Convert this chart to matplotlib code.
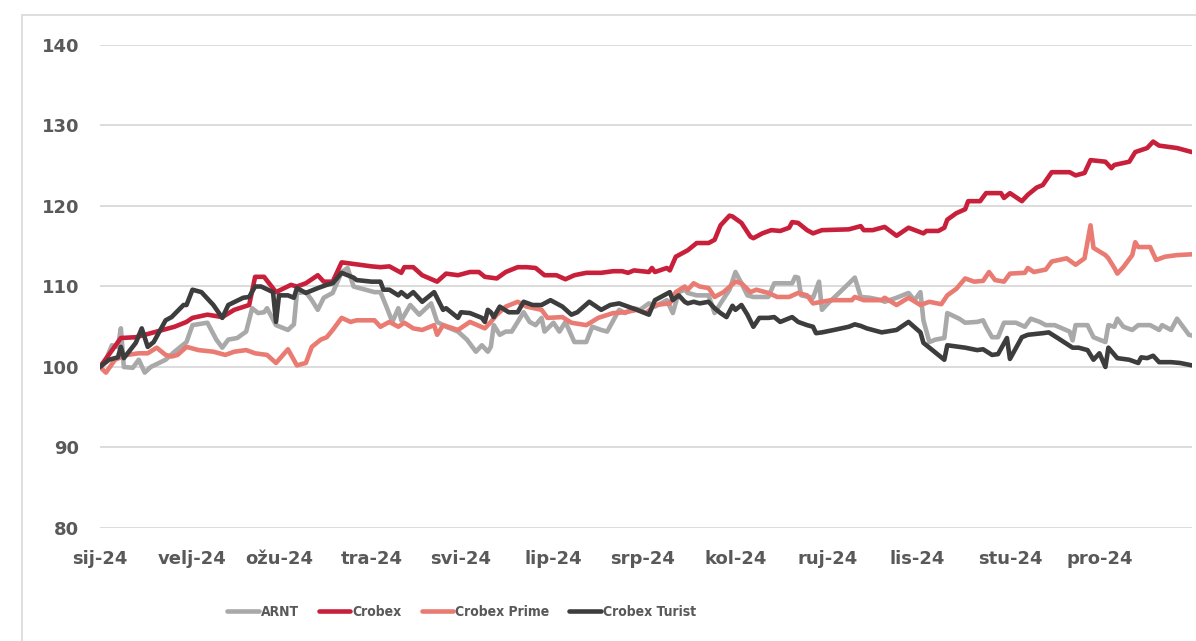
import numpy as np
import matplotlib
matplotlib.use("Agg")
import matplotlib.pyplot as plt
import matplotlib.dates as mdates
from matplotlib.patches import Rectangle
from matplotlib import font_manager

# day of year (0 = 1 Jan 2024) and index level
arnt_days = [0, 2, 4, 6, 7, 8, 11, 13, 15, 17, 22, 25, 29, 31, 36, 39, 41, 43, 46, 49, 51, 53, 55, 56, 59, 63, 65,
             66, 69, 71, 73, 75, 78, 81, 83, 85, 87, 92, 94, 96, 98, 100, 101, 104, 107, 111, 113, 116, 120, 123, 126,
             128, 130, 131, 132, 134, 136, 138, 142, 144, 146, 148, 149, 152, 154, 156, 159, 163, 165, 168, 170, 174,
             176, 179, 181, 184, 186, 190, 192, 194, 196, 197, 200, 204, 206, 208, 211, 213, 215, 217, 219, 224, 226,
             232, 233, 234, 235, 239, 241, 242, 244, 248, 253, 255, 258, 262, 263, 267, 271, 273, 275, 276, 278, 280,
             283, 284, 288, 290, 294, 296, 297, 299, 301, 303, 307, 310, 312, 315, 317, 320, 325, 326, 327, 331, 333,
             337, 338, 340, 341, 343, 346, 348, 352, 355, 356, 359, 361, 363, 365, 366]
arnt_vals = [100, 100.9, 102.7, 102.5, 104.8, 100, 99.9, 100.9, 99.3, 100, 100.9, 101.9, 103.1, 105.2, 105.5, 103.4,
             102.4, 103.4, 103.6, 104.4, 107.3, 106.7, 106.8, 107.3, 105.2, 104.6, 105.3,
             109.2, 109.3, 108.3, 107.1, 108.6, 109.2, 111.8, 112.3, 110, 109.8, 109.3, 109.3, 107.5, 105.6, 107.3,
             105.8, 107.7, 106.5, 107.9, 105.6, 105, 104.4, 103.4, 101.9,
             102.7, 101.9, 102.5, 105.2, 104, 104.4, 104.4, 106.8, 105.6, 105.2, 106.1, 104.4, 105.5, 104.4, 105.6,
             103.1, 103.1, 105, 104.6, 104.4, 107.1,
             106.7, 107.3, 107.1, 107.9, 107.5, 108.3, 106.7, 109.3, 109.6, 109.2, 108.9, 108.9, 106.7, 107.9, 109.6,
             111.8, 110.4, 108.9, 108.7, 108.7, 110.4,
             110.4, 111.2, 111.1, 108.9, 108.6, 110.6, 107.1, 107.9, 109.3, 111.1, 108.7, 108.6, 108.3, 108.1, 108.6,
             109.2, 108.3, 109.3, 105.8, 103.1, 103.4,
             103.6, 106.7, 106, 105.5, 105.6, 105.8, 105, 103.7, 103.7, 105.5, 105.5, 105, 106, 105.6, 105.2, 105.2,
             104.4, 103.3, 105.2, 105.2, 103.7,
             103.1, 105.2, 105, 106, 105, 104.6, 105.2, 105.2, 104.6, 105.2, 104.6, 106, 105, 104, 103.9]

crobex_days = [0, 7, 12, 17, 21, 25, 29, 31, 36, 41, 45, 50, 52, 55, 59, 64, 66, 69, 73, 75, 78, 81, 83, 87, 91, 94,
               97, 101, 102, 105, 108, 113, 116, 120, 124, 127, 129, 131, 133, 136, 140, 143, 146, 149, 153, 156, 159,
               163, 168, 172, 175, 177, 179, 184, 185, 186, 190, 191, 193, 197, 200, 204, 206, 208, 211, 212, 215,
               218, 219, 222, 225, 228, 231, 232, 234, 237, 239, 242, 251, 253, 255, 256, 259, 263, 267, 271, 276,
               277, 281, 283, 284, 287, 290, 291, 295, 297, 302, 303, 305, 309, 311, 314, 316, 319, 325, 327, 330,
               332, 337, 339, 340, 345, 347, 351, 353, 355, 361, 366]
crobex_vals = [100, 103.6, 103.7, 104.2, 104.6, 105, 105.6, 106.1, 106.5, 106.2, 107.1, 107.7, 111.2, 111.2, 109.3,
               110.2, 110, 110.4, 111.4, 110.6, 110.6, 113, 112.9, 112.7, 112.5, 112.4,
               112.5, 111.7, 112.4, 112.4, 111.4, 110.6, 111.6, 111.4, 111.8, 111.8, 111.2, 111.1, 111, 111.8, 112.4,
               112.4, 112.3, 111.4, 111.4, 110.9, 111.4,
               111.7, 111.7, 111.9, 111.9, 111.7, 112, 111.8, 112.3, 111.8, 112.3, 112, 113.7, 114.5, 115.4, 115.4,
               115.8, 117.6, 118.8, 118.7, 117.9,
               116.2, 116, 116.6, 117, 116.9, 117.3, 118, 117.9, 117, 116.6, 117, 117.1, 117.3, 117.5, 117, 117,
               117.4, 116.3, 117.3, 116.6,
               116.9, 116.9, 117.3, 118.3, 119.1, 119.6, 120.6, 120.6, 121.6, 121.6, 121, 121.6, 120.6, 121.4, 122.3,
               122.6, 124.2, 124.2, 123.8, 124.1,
               125.7, 125.5, 124.7, 125.1, 125.5, 126.7, 127.2, 128, 127.5, 127.2, 126.7]

prime_days = [0, 2, 5, 9, 13, 16, 19, 22, 24, 26, 29, 33, 38, 42, 45, 49, 52, 56, 59, 63, 66, 69, 71, 74, 76, 78,
              81, 84, 86, 92, 94, 97, 100, 102, 105, 108, 112, 113, 115, 120, 124, 129, 131, 133, 136, 140, 143, 148,
              150, 155, 158, 163, 167, 172, 176, 180, 183, 186, 191, 193, 196, 197, 199, 201, 204, 206, 209, 213,
              215, 218, 220, 224, 227, 231, 234, 237, 239, 245, 252, 253, 256, 262, 263, 267, 271, 275, 278, 282,
              284, 287, 290, 293, 296, 298, 300, 303, 305, 310, 311, 313, 317, 319, 324, 327, 330, 332, 333, 337,
              338, 340, 341, 343, 346, 347, 348, 352, 354, 357, 361, 366]
prime_vals = [100, 99.3, 100.9, 101.5, 101.7, 101.7, 102.4, 101.5, 101.3, 101.5, 102.5, 102.1, 101.9, 101.5, 101.9,
              102.1, 101.7, 101.5, 100.5, 102.2, 100.2, 100.5, 102.5, 103.4, 103.7, 104.6,
              106.1, 105.6, 105.8, 105.8, 105, 105.6, 105, 105.5, 104.8, 104.6, 105.2, 104, 105.2, 104.6, 105.6, 104.8,
              105.6, 106.5, 107.5, 108.1, 107.5, 107.1,
              106.1, 106.2, 105.5, 105.2, 106.1, 106.7, 106.8, 107.1, 106.7, 107.7, 107.9, 109.3, 110, 109.6, 110.4,
              110, 109.8, 108.7, 109.3, 110.6,
              110.4, 109.3, 109.6, 109.2, 108.7, 108.7, 109.2, 108.9, 107.9, 108.3, 108.3, 108.7, 108.3, 108.3, 108.6,
              107.7, 108.6, 107.7, 108.1, 107.8,
              108.9, 109.7, 111, 110.6, 110.7, 111.8, 110.8, 110.6, 111.6, 111.7, 112.3, 111.8, 112.1, 113.1, 113.5,
              112.7, 113.5, 117.6, 114.8, 113.9,
              113.5, 112.3, 111.6, 112.4, 113.9, 115.5, 114.9, 114.9, 113.3, 113.7, 113.9, 114]

turist_days = [0, 3, 6, 7, 8, 12, 14, 16, 18, 22, 24, 28, 29, 31, 34, 38, 41, 43, 48, 50, 52, 54, 58, 59, 60, 63, 65,
               66, 69, 73, 76, 78, 81, 85, 86, 91, 94, 95, 97, 100, 101, 103, 105, 108, 112, 115, 116, 120, 121, 124,
               128, 129, 130, 131, 132, 134, 137, 140, 142, 145, 148, 151, 155, 158, 160, 164, 168, 171, 174, 177,
               180, 184, 186, 191, 192, 194, 196, 197, 199, 201, 204, 206, 208, 210, 212, 213, 215, 217, 219, 221,
               224, 226, 228, 232, 234, 237, 239, 240, 242, 246, 251, 253, 255, 257, 262, 267, 271, 275, 276, 279,
               283, 284, 290, 294, 296, 299, 301, 304, 305, 309, 311, 316, 318, 321, 326, 328, 331, 333, 335, 337,
               338, 341, 345, 348, 349, 351, 353, 355, 359, 362, 366]
turist_vals = [100, 100.9, 101.2, 102.5, 101.1, 103, 104.8, 102.5, 103.1, 105.8, 106.2, 107.7, 107.7, 109.6, 109.3,
               107.7, 106.1, 107.7, 108.6, 108.7, 110, 110, 109.3, 105.6, 108.9, 108.9, 108.6,
               109.8, 109.2, 109.8, 110.2, 110.4, 111.7, 111.1, 110.8, 110.6, 110.6, 109.6, 109.6, 108.9, 109.3, 108.7,
               109.3, 108.1, 109.3, 107.1, 107.3, 106.1, 106.8, 106.7,
               106.1, 105.6, 107.1, 106.8, 106.2, 107.5, 106.8, 106.8, 108.1, 107.7, 107.7, 108.3, 107.5, 106.5, 106.8,
               108.1, 107.1, 107.7, 107.9, 107.5,
               107.1, 106.5, 108.3, 109.3, 108.3, 108.9, 108.1, 107.9, 108.1, 107.9, 108.1, 107.3, 106.7, 106.2, 107.6,
               107.1, 107.7, 106.5, 105, 106.1,
               106.1, 106.2, 105.6, 106.2, 105.6, 105.2, 105, 104.2, 104.3, 104.6, 105, 105.3, 105.1, 104.8, 104.3,
               104.6, 105.6, 104.3, 103, 102.1,
               100.9, 102.7, 102.4, 102.1, 102.2, 101.5, 101.6, 103.6, 101, 103.7, 104, 104.2, 104.3, 103.6, 102.4,
               102.4, 102.1, 100.9, 101.7, 100,
               102.4, 101.1, 100.9, 100.5, 101.2, 101.1, 101.4, 100.6, 100.6, 100.5, 100.2]

month_labels = ["sij-24", "velj-24", "ožu-24", "tra-24", "svi-24", "lip-24",
                "srp-24", "kol-24", "ruj-24", "lis-24", "stu-24", "pro-24"]
y_ticks = [80, 90, 100, 110, 120, 130, 140]

start = np.datetime64("2024-01-01")


def to_dates(days):
    return start + np.array(days, dtype="timedelta64[D]")


# narrow font for the legend if there is one
names = {f.name for f in font_manager.fontManager.ttflist}
leg_font = {"family": "DejaVu Sans", "stretch": "condensed", "weight": "bold", "size": 10}
if "Liberation Sans Narrow" in names:
    leg_font = {"family": "Liberation Sans Narrow", "weight": "bold", "size": 10.5}

fig = plt.figure(figsize=(11.96, 6.41), dpi=100)
ax = fig.add_axes([0.0836, 0.1763, 0.913, 0.7535])

# outer chart border
fig.patches.append(Rectangle((0.018, -0.1), 1.2, 1.0766, transform=fig.transFigure,
                             fill=False, edgecolor="#d9d9d9", linewidth=1.2))

series = [
    ("ARNT", arnt_days, arnt_vals, "#a9a9a9"),
    ("Crobex", crobex_days, crobex_vals, "#c8203a"),
    ("Crobex Prime", prime_days, prime_vals, "#e97b72"),
    ("Crobex Turist", turist_days, turist_vals, "#3d3d3d"),
]
for name, days, vals, color in series:
    ax.plot(to_dates(days), vals, color=color, linewidth=3.3, label=name,
            solid_joinstyle="round", solid_capstyle="round")

ax.set_ylim(80, 140)
ax.set_yticks(y_ticks)
ax.set_xlim(start, start + np.timedelta64(366, "D"))
ax.xaxis.set_major_locator(mdates.MonthLocator())
ax.set_xticks(ax.get_xticks()[:12])
ax.set_xticklabels(month_labels)

ax.grid(axis="y", color="#d9d9d9", linewidth=1.3)
ax.set_axisbelow(True)
for sp in ax.spines.values():
    sp.set_visible(False)
ax.tick_params(axis="both", length=0, labelsize=13, labelcolor="#595959")
ax.tick_params(axis="y", pad=15)
ax.tick_params(axis="x", pad=16)
for lbl in ax.get_xticklabels() + ax.get_yticklabels():
    lbl.set_fontweight("bold")

leg = fig.legend(loc="center", bbox_to_anchor=(0.386, 0.045), ncol=4, frameon=False,
                 handlelength=2.25, handletextpad=0.15, columnspacing=1.45, prop=leg_font)
for t in leg.get_texts():
    t.set_color("#595959")

fig.savefig("out.png", dpi=100)
